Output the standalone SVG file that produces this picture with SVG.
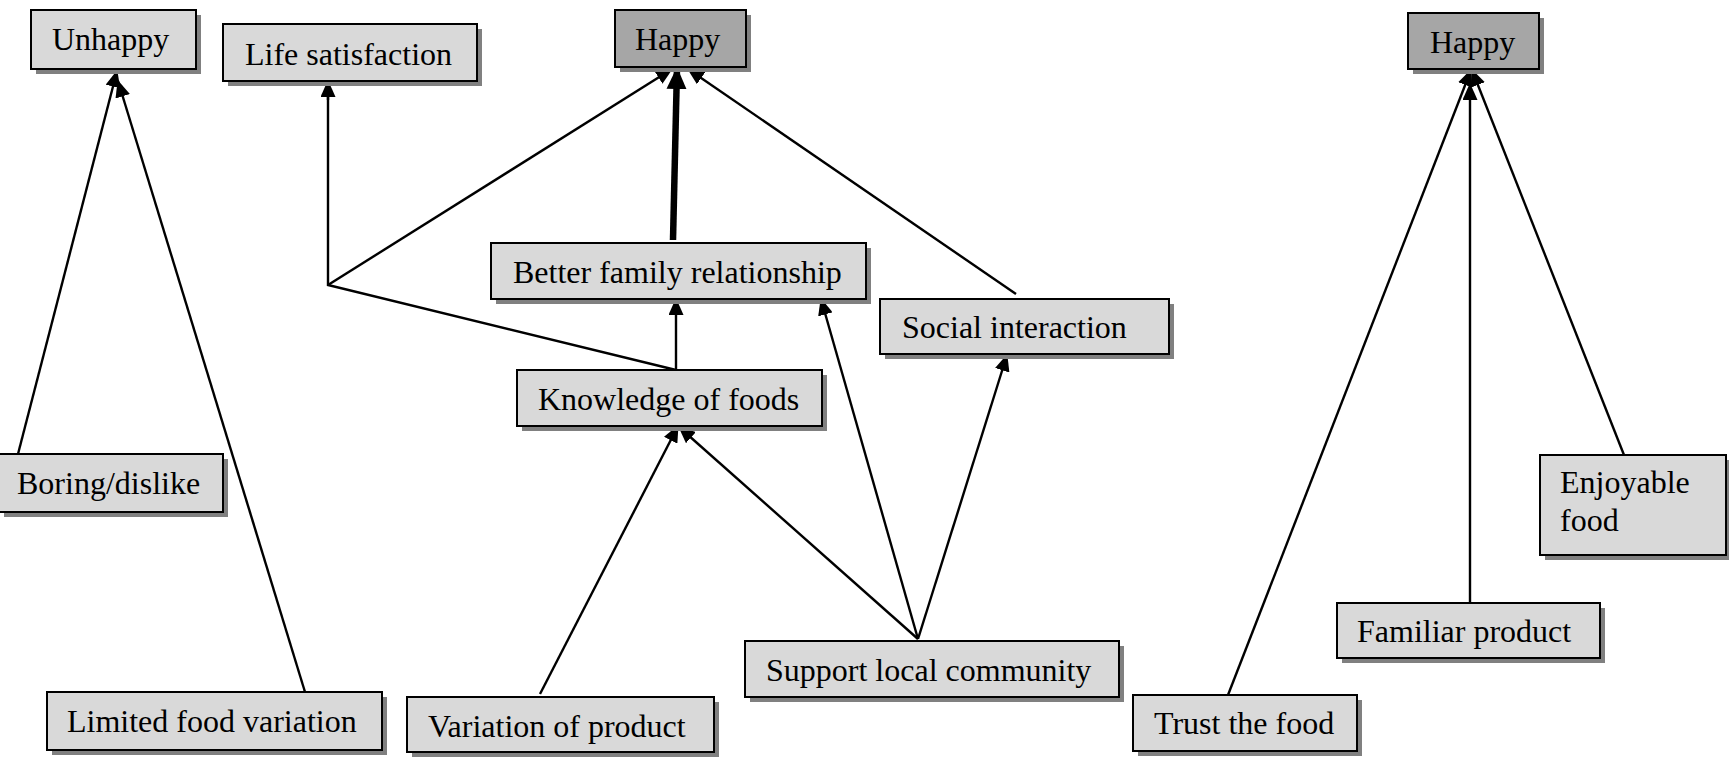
<svg xmlns="http://www.w3.org/2000/svg" width="1729" height="762" viewBox="0 0 1729 762">
  <style>
    .shadow { fill: #808080; }
    .box { fill: #d9d9d9; stroke: #000; stroke-width: 2; }
    .box.key { fill: #a6a6a6; }
    .lbl { font-family: "Liberation Serif", "Times New Roman", serif; font-size: 32px; fill: #000; }
    .edge { fill: none; stroke: #000; stroke-width: 2.4; }
    .edge.arrow { marker-end: url(#head); }
    .edge.strong { stroke-width: 6.5; marker-end: url(#headStrong); }
  </style>
  <defs>
    <marker id="head" markerUnits="userSpaceOnUse" viewBox="0 0 17 15" refX="16" refY="7.5" markerWidth="17" markerHeight="15" orient="auto">
      <path d="M0,0 L17,7.5 L0,15 Z" fill="#000"/>
    </marker>
    <marker id="headStrong" markerUnits="userSpaceOnUse" viewBox="0 0 22 20" refX="21" refY="10" markerWidth="22" markerHeight="20" orient="auto">
      <path d="M0,0 L22,10 L0,20 Z" fill="#000"/>
    </marker>
  </defs>
  <rect width="1729" height="762" fill="#fff"/>

  <!-- connectors -->
  <g id="connectors">
    <line class="edge arrow" x1="18" y1="454" x2="117" y2="71"/>
    <line class="edge arrow" x1="305" y1="692" x2="118" y2="81"/>
    <polyline class="edge" points="676,370 328,285 328,95"/>
    <line class="edge arrow" x1="328" y1="100" x2="328" y2="81"/>
    <line class="edge arrow" x1="328" y1="285" x2="672" y2="69"/>
    <line class="edge strong" x1="673" y1="240" x2="677" y2="68"/>
    <line class="edge arrow" x1="1016" y1="294" x2="688" y2="69"/>
    <line class="edge arrow" x1="676" y1="370" x2="676" y2="299"/>
    <line class="edge arrow" x1="540" y1="694" x2="678" y2="426"/>
    <line class="edge arrow" x1="918" y1="639" x2="679" y2="427"/>
    <line class="edge arrow" x1="918" y1="639" x2="821" y2="299"/>
    <line class="edge arrow" x1="918" y1="639" x2="1007" y2="355"/>
    <line class="edge arrow" x1="1228" y1="695" x2="1471" y2="70"/>
    <line class="edge arrow" x1="1470" y1="603" x2="1470" y2="84"/>
    <line class="edge arrow" x1="1624" y1="455" x2="1472" y2="70"/>
  </g>

  <!-- nodes -->
  <g id="unhappy">
    <rect class="shadow" x="36" y="15" width="165" height="59"/>
    <rect class="box" x="31" y="10" width="165" height="59"/>
    <text class="lbl" x="52" y="50">Unhappy</text>
  </g>
  <g id="life-satisfaction">
    <rect class="shadow" x="228" y="29" width="254" height="57"/>
    <rect class="box" x="223" y="24" width="254" height="57"/>
    <text class="lbl" x="245" y="65">Life satisfaction</text>
  </g>
  <g id="happy-a">
    <rect class="shadow" x="620" y="15" width="131" height="57"/>
    <rect class="box key" x="615" y="10" width="131" height="57"/>
    <text class="lbl" x="635" y="50">Happy</text>
  </g>
  <g id="better-family">
    <rect class="shadow" x="496" y="248" width="375" height="56"/>
    <rect class="box" x="491" y="243" width="375" height="56"/>
    <text class="lbl" x="513" y="283">Better family relationship</text>
  </g>
  <g id="social-interaction">
    <rect class="shadow" x="885" y="304" width="289" height="55"/>
    <rect class="box" x="880" y="299" width="289" height="55"/>
    <text class="lbl" x="902" y="338">Social interaction</text>
  </g>
  <g id="knowledge">
    <rect class="shadow" x="522" y="375" width="305" height="56"/>
    <rect class="box" x="517" y="370" width="305" height="56"/>
    <text class="lbl" x="538" y="410">Knowledge of foods</text>
  </g>
  <g id="boring">
    <rect class="shadow" x="4" y="459" width="224" height="58"/>
    <rect class="box" x="-1" y="454" width="224" height="58"/>
    <text class="lbl" x="17" y="494">Boring/dislike</text>
  </g>
  <g id="limited-variation">
    <rect class="shadow" x="52" y="697" width="335" height="58"/>
    <rect class="box" x="47" y="692" width="335" height="58"/>
    <text class="lbl" x="67" y="732">Limited food variation</text>
  </g>
  <g id="variation-product">
    <rect class="shadow" x="412" y="702" width="307" height="55"/>
    <rect class="box" x="407" y="697" width="307" height="55"/>
    <text class="lbl" x="428" y="737">Variation of product</text>
  </g>
  <g id="support-community">
    <rect class="shadow" x="750" y="646" width="374" height="56"/>
    <rect class="box" x="745" y="641" width="374" height="56"/>
    <text class="lbl" x="766" y="681">Support local community</text>
  </g>
  <g id="trust-food">
    <rect class="shadow" x="1138" y="700" width="224" height="56"/>
    <rect class="box" x="1133" y="695" width="224" height="56"/>
    <text class="lbl" x="1154" y="734">Trust the food</text>
  </g>
  <g id="familiar-product">
    <rect class="shadow" x="1342" y="608" width="263" height="55"/>
    <rect class="box" x="1337" y="603" width="263" height="55"/>
    <text class="lbl" x="1357" y="642">Familiar product</text>
  </g>
  <g id="enjoyable-food">
    <rect class="shadow" x="1545" y="460" width="186" height="100"/>
    <rect class="box" x="1540" y="455" width="186" height="100"/>
    <text class="lbl" x="1560" y="493">Enjoyable</text>
    <text class="lbl" x="1560" y="531">food</text>
  </g>
  <g id="happy-b">
    <rect class="shadow" x="1413" y="18" width="131" height="56"/>
    <rect class="box key" x="1408" y="13" width="131" height="56"/>
    <text class="lbl" x="1430" y="53">Happy</text>
  </g>
</svg>
